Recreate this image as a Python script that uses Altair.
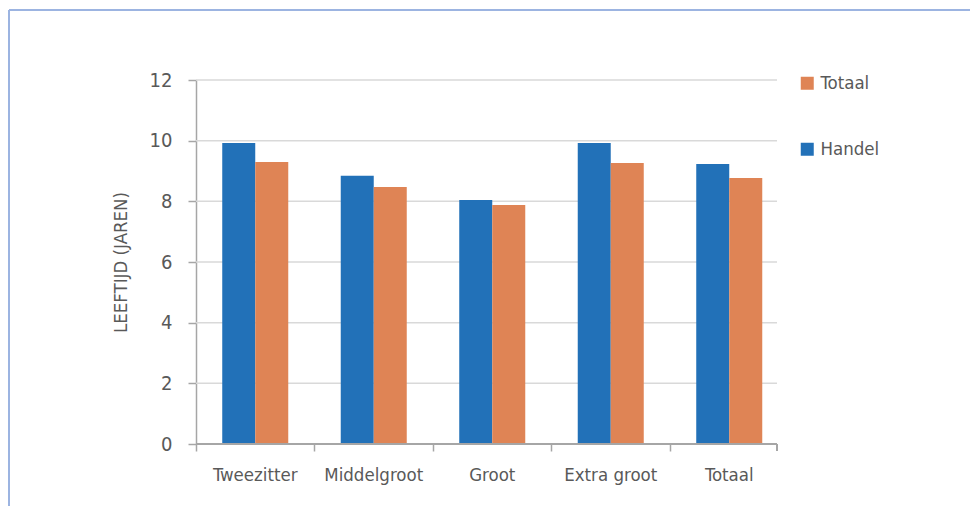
import altair as alt
import pandas as pd

categories = ["Tweezitter", "Middelgroot", "Groot", "Extra groot", "Totaal"]
handel = [9.92, 8.84, 8.04, 9.92, 9.23]
totaal = [9.30, 8.47, 7.88, 9.26, 8.77]
series = ["Handel", "Totaal"]
legend_order = ["Totaal", "Handel"]
colors = ["#DF8455", "#2271B8"]
y_ticks = [0, 2, 4, 6, 8, 10, 12]

rows = []
for c, h, t in zip(categories, handel, totaal):
    rows.append({"cat": c, "serie": "Handel", "val": h})
    rows.append({"cat": c, "serie": "Totaal", "val": t})
df = pd.DataFrame(rows)
grid_df = pd.DataFrame({"t": y_ticks[1:]})

FONT = "DejaVu Sans Condensed, Liberation Sans Narrow, sans-serif"
STEP = 118.5
W = STEP * 5          # band scale width
AX = 581              # visible axis length
H = 364

grid = alt.Chart(grid_df).mark_rule(color="#d9d9d9", strokeWidth=1.5).encode(
    y=alt.Y("t:Q", scale=alt.Scale(domain=[0, 12], nice=False)),
    x=alt.value(0), x2=alt.value(AX))

bars = alt.Chart(df).mark_bar(size=33).encode(
    x=alt.X("cat:N", sort=categories,
            scale=alt.Scale(paddingInner=0, paddingOuter=0),
            axis=alt.Axis(title=None, bandPosition=0, tickSize=7, tickColor="#a6a6a6",
                          tickWidth=1.5, domain=False,
                          labelAngle=0, labelFontSize=18.5, labelColor="#595959",
                          labelFont=FONT, labelPadding=14, grid=False)),
    xOffset=alt.XOffset("serie:N", sort=series,
                        scale=alt.Scale(paddingInner=0, paddingOuter=0.795)),
    y=alt.Y("val:Q", scale=alt.Scale(domain=[0, 12], nice=False),
            axis=alt.Axis(title="LEEFTIJD (JAREN)", values=y_ticks, tickSize=8,
                          tickColor="#a6a6a6", tickWidth=1.5, domainColor="#a6a6a6",
                          domainWidth=1.5, grid=False,
                          labelFontSize=20, labelColor="#595959", labelFont=FONT,
                          labelPadding=16, titleFont=FONT, titleFontSize=18.5,
                          titleFontWeight="normal", titleColor="#595959",
                          titlePadding=19)),
    color=alt.Color("serie:N", sort=legend_order,
                    scale=alt.Scale(domain=legend_order, range=colors),
                    legend=alt.Legend(title=None, orient="none", legendX=602, legendY=-6,
                                      symbolType="square", symbolSize=169,
                                      symbolStrokeWidth=0, labelFontSize=18.5,
                                      labelColor="#595959", labelFont=FONT,
                                      labelOffset=4, rowPadding=47, padding=0)),
)

x_domain = alt.Chart(df).mark_rule(color="#a6a6a6", strokeWidth=1.5).encode(
    x=alt.value(0), x2=alt.value(AX), y=alt.value(H))
last_tick = alt.Chart(df).mark_rule(color="#a6a6a6", strokeWidth=1.5).encode(
    x=alt.value(AX), y=alt.value(H), y2=alt.value(H + 7))

border_left = alt.Chart(df).mark_rule(color="#9DB5E0", strokeWidth=1.5).encode(
    x=alt.value(-187), y=alt.value(-70), y2=alt.value(H + 80))
border_top = alt.Chart(df).mark_rule(color="#9DB5E0", strokeWidth=1.5).encode(
    x=alt.value(-187), x2=alt.value(AX + 210), y=alt.value(-70))

chart = alt.layer(grid, bars, x_domain, last_tick, border_left, border_top).properties(
    width=W, height=H,
    background="white",
    autosize=alt.AutoSizeParams(type="none"),
    padding={"left": 188, "top": 72, "right": 181, "bottom": 62},
).configure_view(strokeWidth=0, stroke="transparent")

chart.save("out.html", embed_options={"renderer": "svg", "actions": False})
